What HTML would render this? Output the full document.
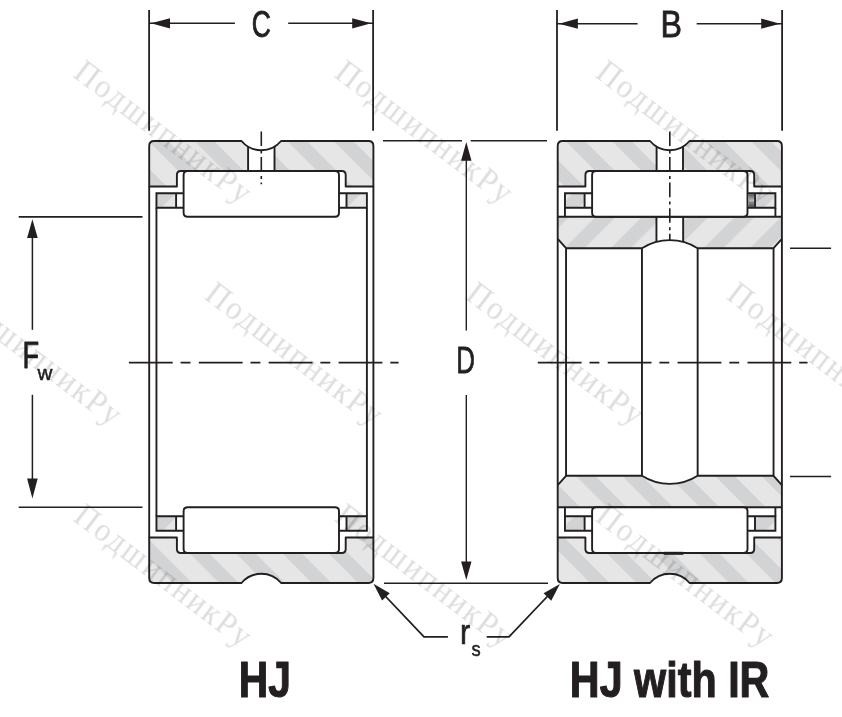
<!DOCTYPE html>
<html><head><meta charset="utf-8"><style>
html,body{margin:0;padding:0;background:#fff;width:842px;height:717px;overflow:hidden;}
svg{display:block;}
</style></head><body>
<svg width="842" height="717" viewBox="0 0 842 717"><defs><pattern id="hb" patternUnits="userSpaceOnUse" width="32.79" height="20" patternTransform="rotate(-45)"><rect width="32.79" height="20" fill="#e6e6e7"/><rect x="5.09" width="13.79" height="20" fill="#d2d3d4"/></pattern><pattern id="hf" patternUnits="userSpaceOnUse" width="32.79" height="20" patternTransform="rotate(45)"><rect width="32.79" height="20" fill="#e6e6e7"/><rect x="17.18" width="14.14" height="20" fill="#d2d3d4"/></pattern><linearGradient id="cyl" x1="0" y1="0" x2="0" y2="1"><stop offset="0" stop-color="#555"/><stop offset="0.5" stop-color="#bbb"/><stop offset="1" stop-color="#444"/></linearGradient></defs><rect width="842" height="717" fill="#fff"/><path d="M149.2,186.5 L149.2,146 Q149.2,141 154.2,141 L241.5,141 A25.9,25.9 0 0 0 248.1,146.58 L248.1,171 L180.9,171 Q176.9,171 176.9,175 L176.9,186.5 Z" fill="url(#hb)"/>
<path d="M373.4,186.5 L373.4,146 Q373.4,141 368.4,141 L281.1,141 A25.9,25.9 0 0 1 274.5,146.58 L274.5,171 L341.7,171 Q345.7,171 345.7,175 L345.7,186.5 Z" fill="url(#hb)"/>
<path d="M149.2,186.5 L149.2,146 Q149.2,141 154.2,141 L241.5,141 A25.9,25.9 0 0 0 281.1,141 L368.4,141 Q373.4,141 373.4,146 L373.4,186.5 L345.7,186.5 L345.7,175 Q345.7,171 341.7,171 L180.9,171 Q176.9,171 176.9,175 L176.9,186.5 Z" fill="none" stroke="#231f20" stroke-width="1.9" stroke-linejoin="round"/>
<line x1="248.1" y1="146.58" x2="248.1" y2="171" stroke="#231f20" stroke-width="1.9"/>
<line x1="274.5" y1="146.58" x2="274.5" y2="171" stroke="#231f20" stroke-width="1.9"/>
<path d="M149.2,537.5 L149.2,578 Q149.2,583 154.2,583 L241.5,583 A25.9,25.9 0 0 1 281.1,583 L368.4,583 Q373.4,583 373.4,578 L373.4,537.5 L345.7,537.5 L345.7,549 Q345.7,553 341.7,553 L180.9,553 Q176.9,553 176.9,549 L176.9,537.5 Z" fill="url(#hb)"/>
<path d="M149.2,537.5 L149.2,578 Q149.2,583 154.2,583 L241.5,583 A25.9,25.9 0 0 1 281.1,583 L368.4,583 Q373.4,583 373.4,578 L373.4,537.5 L345.7,537.5 L345.7,549 Q345.7,553 341.7,553 L180.9,553 Q176.9,553 176.9,549 L176.9,537.5 Z" fill="none" stroke="#231f20" stroke-width="1.9" stroke-linejoin="round"/>
<path d="M187.6,171 L335,171 Q339,171 339,175 L339,212.8 Q339,216.8 335,216.8 L187.6,216.8 Q183.6,216.8 183.6,212.8 L183.6,175 Q183.6,171 187.6,171 Z" fill="#fff" stroke="#231f20" stroke-width="1.9"/>
<path d="M187.6,507.2 L335,507.2 Q339,507.2 339,511.2 L339,549 Q339,553 335,553 L187.6,553 Q183.6,553 183.6,549 L183.6,511.2 Q183.6,507.2 187.6,507.2 Z" fill="#fff" stroke="#231f20" stroke-width="1.9"/>
<rect x="156.45" y="193.2" width="19.65" height="14.6" fill="url(#hf)"/>
<path d="M183.6,193.2 L156.45,193.2 L156.45,207.8 L183.6,207.8 M176.1,193.2 L176.1,207.8" fill="none" stroke="#231f20" stroke-width="1.9"/>
<rect x="346.5" y="193.2" width="20.4" height="14.6" fill="url(#hf)"/>
<path d="M339,193.2 L366.9,193.2 L366.9,207.8 L339,207.8 M346.5,193.2 L346.5,207.8" fill="none" stroke="#231f20" stroke-width="1.9"/>
<rect x="156.45" y="516.2" width="19.65" height="14.6" fill="url(#hf)"/>
<path d="M183.6,516.2 L156.45,516.2 L156.45,530.8 L183.6,530.8 M176.1,516.2 L176.1,530.8" fill="none" stroke="#231f20" stroke-width="1.9"/>
<rect x="346.5" y="516.2" width="20.4" height="14.6" fill="url(#hf)"/>
<path d="M339,516.2 L366.9,516.2 L366.9,530.8 L339,530.8 M346.5,516.2 L346.5,530.8" fill="none" stroke="#231f20" stroke-width="1.9"/>
<line x1="149.2" y1="186.5" x2="149.2" y2="537.5" stroke="#231f20" stroke-width="1.9"/>
<line x1="373.4" y1="186.5" x2="373.4" y2="537.5" stroke="#231f20" stroke-width="1.9"/>
<line x1="156.45" y1="207.8" x2="156.45" y2="516.2" stroke="#231f20" stroke-width="1.9"/>
<line x1="366.9" y1="207.8" x2="366.9" y2="516.2" stroke="#231f20" stroke-width="1.9"/>
<path d="M557.7,186.5 L557.7,146 Q557.7,141 562.7,141 L650,141 A25.9,25.9 0 0 0 656.6,146.58 L656.6,171 L589.4,171 Q585.4,171 585.4,175 L585.4,186.5 Z" fill="url(#hb)"/>
<path d="M781.9,186.5 L781.9,146 Q781.9,141 776.9,141 L689.6,141 A25.9,25.9 0 0 1 683,146.58 L683,171 L750.2,171 Q754.2,171 754.2,175 L754.2,186.5 Z" fill="url(#hb)"/>
<path d="M557.7,186.5 L557.7,146 Q557.7,141 562.7,141 L650,141 A25.9,25.9 0 0 0 689.6,141 L776.9,141 Q781.9,141 781.9,146 L781.9,186.5 L754.2,186.5 L754.2,175 Q754.2,171 750.2,171 L589.4,171 Q585.4,171 585.4,175 L585.4,186.5 Z" fill="none" stroke="#231f20" stroke-width="1.9" stroke-linejoin="round"/>
<line x1="656.6" y1="146.58" x2="656.6" y2="171" stroke="#231f20" stroke-width="1.9"/>
<line x1="683" y1="146.58" x2="683" y2="171" stroke="#231f20" stroke-width="1.9"/>
<path d="M557.7,537.5 L557.7,578 Q557.7,583 562.7,583 L650,583 A25.9,25.9 0 0 1 689.6,583 L776.9,583 Q781.9,583 781.9,578 L781.9,537.5 L754.2,537.5 L754.2,549 Q754.2,553 750.2,553 L589.4,553 Q585.4,553 585.4,549 L585.4,537.5 Z" fill="url(#hb)"/>
<path d="M557.7,537.5 L557.7,578 Q557.7,583 562.7,583 L650,583 A25.9,25.9 0 0 1 689.6,583 L776.9,583 Q781.9,583 781.9,578 L781.9,537.5 L754.2,537.5 L754.2,549 Q754.2,553 750.2,553 L589.4,553 Q585.4,553 585.4,549 L585.4,537.5 Z" fill="none" stroke="#231f20" stroke-width="1.9" stroke-linejoin="round"/>
<path d="M557.7,216.8 L656.45,216.8 L656.45,241.85 A51.9,51.9 0 0 0 641.95,248.2 L566.05,248.2 L557.7,238.9 Z" fill="url(#hf)"/>
<path d="M781.9,216.8 L683.15,216.8 L683.15,241.85 A51.9,51.9 0 0 1 697.65,248.2 L773.55,248.2 L781.9,238.9 Z" fill="url(#hf)"/>
<line x1="656.45" y1="216.8" x2="656.45" y2="241.85" stroke="#231f20" stroke-width="1.9"/>
<line x1="683.15" y1="216.8" x2="683.15" y2="241.85" stroke="#231f20" stroke-width="1.9"/>
<path d="M557.7,216.8 L781.9,216.8" fill="none" stroke="#231f20" stroke-width="1.9"/>
<path d="M557.7,238.9 L566.05,248.2 L641.95,248.2 A51.9,51.9 0 0 1 697.65,248.2 L773.55,248.2 L781.9,238.9" fill="none" stroke="#231f20" stroke-width="1.9" stroke-linejoin="round"/>
<path d="M557.7,507.2 L781.9,507.2 L781.9,485.1 L773.55,475.8 L697.65,475.8 A51.9,51.9 0 0 1 641.95,475.8 L566.05,475.8 L557.7,485.1 Z" fill="url(#hb)"/>
<path d="M557.7,507.2 L781.9,507.2" fill="none" stroke="#231f20" stroke-width="1.9"/>
<path d="M557.7,485.1 L566.05,475.8 L641.95,475.8 A51.9,51.9 0 0 0 697.65,475.8 L773.55,475.8 L781.9,485.1" fill="none" stroke="#231f20" stroke-width="1.9" stroke-linejoin="round"/>
<path d="M596.1,171 L743.5,171 Q747.5,171 747.5,175 L747.5,212.8 Q747.5,216.8 743.5,216.8 L596.1,216.8 Q592.1,216.8 592.1,212.8 L592.1,175 Q592.1,171 596.1,171 Z" fill="#fff" stroke="#231f20" stroke-width="1.9"/>
<path d="M596.1,507.2 L743.5,507.2 Q747.5,507.2 747.5,511.2 L747.5,549 Q747.5,553 743.5,553 L596.1,553 Q592.1,553 592.1,549 L592.1,511.2 Q592.1,507.2 596.1,507.2 Z" fill="#fff" stroke="#231f20" stroke-width="1.9"/>
<rect x="564.95" y="193.2" width="19.65" height="14.6" fill="url(#hf)"/>
<path d="M592.1,193.2 L564.95,193.2 L564.95,207.8 L592.1,207.8 M584.6,193.2 L584.6,207.8" fill="none" stroke="#231f20" stroke-width="1.9"/>
<rect x="755" y="193.2" width="20.4" height="14.6" fill="url(#hf)"/>
<path d="M747.5,193.2 L775.4,193.2 L775.4,207.8 L747.5,207.8 M755,193.2 L755,207.8" fill="none" stroke="#231f20" stroke-width="1.9"/>
<rect x="564.95" y="516.2" width="19.65" height="14.6" fill="url(#hf)"/>
<path d="M592.1,516.2 L564.95,516.2 L564.95,530.8 L592.1,530.8 M584.6,516.2 L584.6,530.8" fill="none" stroke="#231f20" stroke-width="1.9"/>
<rect x="755" y="516.2" width="20.4" height="14.6" fill="url(#hf)"/>
<path d="M747.5,516.2 L775.4,516.2 L775.4,530.8 L747.5,530.8 M755,516.2 L755,530.8" fill="none" stroke="#231f20" stroke-width="1.9"/>
<line x1="557.7" y1="186.5" x2="557.7" y2="537.5" stroke="#231f20" stroke-width="1.9"/>
<line x1="781.9" y1="186.5" x2="781.9" y2="537.5" stroke="#231f20" stroke-width="1.9"/>
<line x1="564.95" y1="207.8" x2="564.95" y2="216.8" stroke="#231f20" stroke-width="1.9"/>
<line x1="775.4" y1="207.8" x2="775.4" y2="216.8" stroke="#231f20" stroke-width="1.9"/>
<line x1="564.95" y1="516.2" x2="564.95" y2="507.2" stroke="#231f20" stroke-width="1.9"/>
<line x1="775.4" y1="516.2" x2="775.4" y2="507.2" stroke="#231f20" stroke-width="1.9"/>
<line x1="566.05" y1="248.2" x2="566.05" y2="475.8" stroke="#231f20" stroke-width="1.9"/>
<line x1="773.55" y1="248.2" x2="773.55" y2="475.8" stroke="#231f20" stroke-width="1.9"/>
<line x1="641.95" y1="248.2" x2="641.95" y2="475.8" stroke="#231f20" stroke-width="1.9"/>
<line x1="697.65" y1="248.2" x2="697.65" y2="475.8" stroke="#231f20" stroke-width="1.9"/>
<rect x="748.4" y="194.1" width="5.7" height="12.8" fill="url(#cyl)"/>
<line x1="663.6" y1="553.3" x2="683.4" y2="553.3" stroke="#231f20" stroke-width="3"/>
<line x1="261.3" y1="131.4" x2="261.3" y2="184.3" stroke="#231f20" stroke-width="1.6" stroke-dasharray="14.6 4.4 3.0 3.6"/>
<line x1="669.8" y1="131.4" x2="669.8" y2="240.5" stroke="#231f20" stroke-width="1.6" stroke-dasharray="14.6 4.4 3.0 3.6"/>
<line x1="128.9" y1="362.7" x2="398.6" y2="362.7" stroke="#231f20" stroke-width="1.7" stroke-dasharray="43.8 7.9 9.9 8.3"/>
<line x1="537.8" y1="362.7" x2="807.5" y2="362.7" stroke="#231f20" stroke-width="1.7" stroke-dasharray="43.8 7.9 9.9 8.3"/>
<line x1="149.1" y1="10" x2="149.1" y2="130.8" stroke="#231f20" stroke-width="1.8"/>
<line x1="373.1" y1="10" x2="373.1" y2="130.8" stroke="#231f20" stroke-width="1.8"/>
<line x1="149.1" y1="23.3" x2="234.9" y2="23.3" stroke="#231f20" stroke-width="1.6"/>
<line x1="288.2" y1="23.3" x2="373.1" y2="23.3" stroke="#231f20" stroke-width="1.6"/>
<path d="M151,23.3 L170,18.2 L170,28.4 Z" fill="#231f20"/>
<path d="M371.2,23.3 L352.2,28.4 L352.2,18.2 Z" fill="#231f20"/>
<line x1="557" y1="10" x2="557" y2="130.8" stroke="#231f20" stroke-width="1.8"/>
<line x1="782.1" y1="10" x2="782.1" y2="130.8" stroke="#231f20" stroke-width="1.8"/>
<line x1="557" y1="23.7" x2="637.6" y2="23.7" stroke="#231f20" stroke-width="1.6"/>
<line x1="696.7" y1="23.7" x2="782.1" y2="23.7" stroke="#231f20" stroke-width="1.6"/>
<path d="M558.9,23.7 L577.9,18.6 L577.9,28.8 Z" fill="#231f20"/>
<path d="M780.2,23.7 L761.2,28.8 L761.2,18.6 Z" fill="#231f20"/>
<line x1="383" y1="140.7" x2="462" y2="140.7" stroke="#231f20" stroke-width="1.6"/>
<line x1="470.7" y1="140.7" x2="547" y2="140.7" stroke="#231f20" stroke-width="1.6"/>
<line x1="384" y1="583.2" x2="548" y2="583.2" stroke="#231f20" stroke-width="1.6"/>
<line x1="466.3" y1="150" x2="466.3" y2="330.5" stroke="#231f20" stroke-width="1.4"/>
<line x1="466.3" y1="394.9" x2="466.3" y2="570" stroke="#231f20" stroke-width="1.4"/>
<path d="M466.3,142 L471.5,160.8 L461.1,160.8 Z" fill="#231f20"/>
<path d="M466.3,580 L461.1,561.5 L471.5,561.5 Z" fill="#231f20"/>
<line x1="18.7" y1="216.9" x2="142.5" y2="216.9" stroke="#231f20" stroke-width="1.6"/>
<line x1="18.7" y1="507.2" x2="142.5" y2="507.2" stroke="#231f20" stroke-width="1.6"/>
<line x1="32.4" y1="232" x2="32.4" y2="329.8" stroke="#231f20" stroke-width="1.5"/>
<line x1="32.4" y1="394.8" x2="32.4" y2="485" stroke="#231f20" stroke-width="1.5"/>
<path d="M32.4,219.2 L37.7,238 L27.1,238 Z" fill="#231f20"/>
<path d="M32.4,498.6 L27.1,478.6 L37.7,478.6 Z" fill="#231f20"/>
<line x1="790" y1="248.2" x2="831.1" y2="248.2" stroke="#231f20" stroke-width="1.6"/>
<line x1="790" y1="476.5" x2="831.1" y2="476.5" stroke="#231f20" stroke-width="1.6"/>
<polyline points="447.9,636.8 424,636.8 380,590.5" fill="none" stroke="#231f20" stroke-width="1.8"/>
<path d="M373.5,583.8 L389.75,593.18 L382.08,600.49 Z" fill="#231f20"/>
<polyline points="486.7,636.8 509,636.8 553,590.5" fill="none" stroke="#231f20" stroke-width="1.8"/>
<path d="M559.9,584 L551.24,600.65 L543.6,593.3 Z" fill="#231f20"/>
<g opacity="0.999"><text transform="translate(261.2 37.2) scale(0.7 1)" font-family="Liberation Sans" font-size="37.8" font-weight="normal" fill="#231f20" stroke="#231f20" stroke-width="0.9" stroke-linejoin="round" text-anchor="middle">C</text>
<text transform="translate(671.35 37) scale(0.86 1)" font-family="Liberation Sans" font-size="37.5" font-weight="normal" fill="#231f20" stroke="#231f20" stroke-width="0.8" stroke-linejoin="round" text-anchor="middle">B</text>
<text transform="translate(465.55 373) scale(0.7 1)" font-family="Liberation Sans" font-size="37" font-weight="normal" fill="#231f20" stroke="#231f20" stroke-width="0.8" stroke-linejoin="round" text-anchor="middle">D</text>
<text transform="translate(22.6 368.1) scale(0.74 1)" font-family="Liberation Sans" font-size="36.8" font-weight="normal" fill="#231f20" stroke="#231f20" stroke-width="0.8" stroke-linejoin="round" text-anchor="start">F</text>
<text transform="translate(37.6 380) scale(1.03 1)" font-family="Liberation Sans" font-size="20" font-weight="normal" fill="#231f20" stroke="#231f20" stroke-width="0.5" stroke-linejoin="round" text-anchor="start">w</text>
<text transform="translate(459.9 644.1) scale(0.86 1)" font-family="Liberation Sans" font-size="36" font-weight="normal" fill="#231f20" stroke="#231f20" stroke-width="0.7" stroke-linejoin="round" text-anchor="start">r</text>
<text transform="translate(471.5 656.2) scale(0.92 1)" font-family="Liberation Sans" font-size="20" font-weight="normal" fill="#231f20" stroke="#231f20" stroke-width="0.5" stroke-linejoin="round" text-anchor="start">s</text>
<text transform="translate(264.85 697) scale(0.815 1)" font-family="Liberation Sans" font-size="50" font-weight="bold" fill="#231f20" stroke="#231f20" stroke-width="1.1" stroke-linejoin="round" text-anchor="middle">HJ</text>
<text transform="translate(669.65 696.7) scale(0.826 1)" font-family="Liberation Sans" font-size="50" font-weight="bold" fill="#231f20" stroke="#231f20" stroke-width="1.1" stroke-linejoin="round" text-anchor="middle">HJ with IR</text></g>
<g opacity="0.135"><g transform="translate(72.1 75.9) rotate(37.3) scale(1 1.06)"><text x="0" y="0" font-family="Liberation Serif" font-size="31" letter-spacing="2.2" fill="#000">ПодшипникРу</text></g>
<g transform="translate(333.15 75.9) rotate(37.3) scale(1 1.06)"><text x="0" y="0" font-family="Liberation Serif" font-size="31" letter-spacing="2.2" fill="#000">ПодшипникРу</text></g>
<g transform="translate(594.2 75.9) rotate(37.3) scale(1 1.06)"><text x="0" y="0" font-family="Liberation Serif" font-size="31" letter-spacing="2.2" fill="#000">ПодшипникРу</text></g>
<g transform="translate(-57.75 297.7) rotate(37.3) scale(1 1.06)"><text x="0" y="0" font-family="Liberation Serif" font-size="31" letter-spacing="2.2" fill="#000">ПодшипникРу</text></g>
<g transform="translate(203.3 297.7) rotate(37.3) scale(1 1.06)"><text x="0" y="0" font-family="Liberation Serif" font-size="31" letter-spacing="2.2" fill="#000">ПодшипникРу</text></g>
<g transform="translate(464.35 297.7) rotate(37.3) scale(1 1.06)"><text x="0" y="0" font-family="Liberation Serif" font-size="31" letter-spacing="2.2" fill="#000">ПодшипникРу</text></g>
<g transform="translate(725.4 297.7) rotate(37.3) scale(1 1.06)"><text x="0" y="0" font-family="Liberation Serif" font-size="31" letter-spacing="2.2" fill="#000">ПодшипникРу</text></g>
<g transform="translate(72.1 519.5) rotate(37.3) scale(1 1.06)"><text x="0" y="0" font-family="Liberation Serif" font-size="31" letter-spacing="2.2" fill="#000">ПодшипникРу</text></g>
<g transform="translate(333.15 519.5) rotate(37.3) scale(1 1.06)"><text x="0" y="0" font-family="Liberation Serif" font-size="31" letter-spacing="2.2" fill="#000">ПодшипникРу</text></g>
<g transform="translate(594.2 519.5) rotate(37.3) scale(1 1.06)"><text x="0" y="0" font-family="Liberation Serif" font-size="31" letter-spacing="2.2" fill="#000">ПодшипникРу</text></g></g></svg>
</body></html>
